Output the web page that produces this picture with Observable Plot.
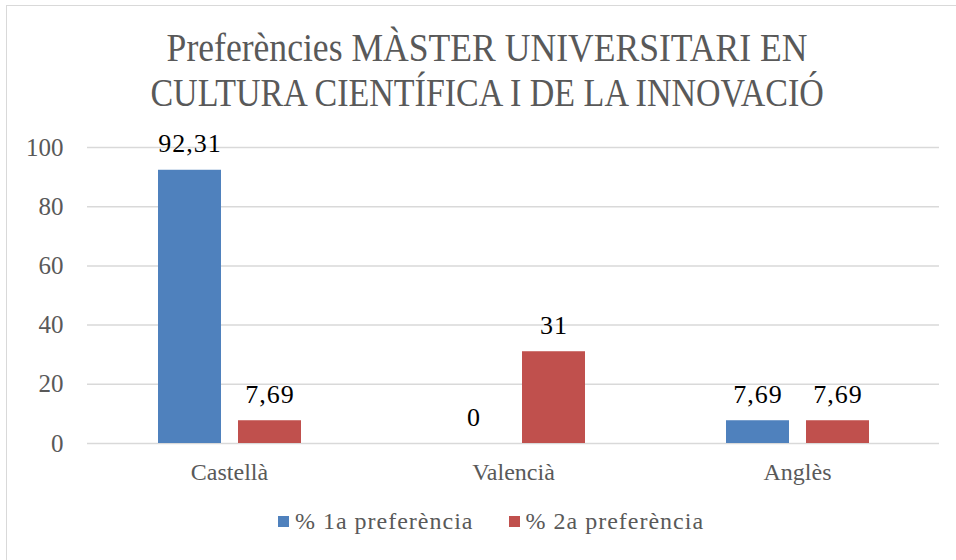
<!DOCTYPE html>
<html><head><meta charset="utf-8">
<script src="https://cdn.jsdelivr.net/npm/d3@7"></script>
<script src="https://cdn.jsdelivr.net/npm/@observablehq/plot@0.6"></script>
<style>
body{margin:0;background:#fff;}
#wrap{position:relative;width:956px;height:560px;overflow:hidden;font-family:'Liberation Serif','DejaVu Serif',serif;background:#fff;}
#frame{position:absolute;left:6px;top:5px;width:1000px;height:600px;border:1.5px solid #d9d9d9;box-sizing:border-box;}
#title{position:absolute;left:0;width:974px;top:25px;text-align:center;color:#595959;font-size:40px;line-height:45px;font-family:'Liberation Serif',serif;}
#title span{display:inline-block;white-space:nowrap;}
#title .l1{transform:scaleX(0.89);}
#title .l2{transform:scaleX(0.85);}
#chart{position:absolute;left:0;top:120px;}
#chart svg text{font-family:'Liberation Serif',serif;}
#chart svg g.labels text{letter-spacing:1px;}
#legend{position:absolute;left:0;width:982px;top:508px;display:flex;justify-content:center;gap:35px;color:#595959;font-size:24px;letter-spacing:1px;font-family:'Liberation Serif',serif;}
#legend .item{display:flex;align-items:center;gap:6px;}
#legend .sw{width:11px;height:11px;display:inline-block;}
</style></head>
<body>
<div id="wrap">
  <div id="frame"></div>
  <div id="title"><span class="l1">Preferències MÀSTER UNIVERSITARI EN</span><br><span class="l2">CULTURA CIENTÍFICA I DE LA INNOVACIÓ</span></div>
  <div id="chart"></div>
  <div id="legend"></div>
</div>
<script>
const categories = ["Castellà", "Valencià", "Anglès"];
const series = ["% 1a preferència", "% 2a preferència"];
const pref1 = [92.31, 0, 7.69];
const pref2 = [7.69, 31, 7.69];
const yTicks = [0, 20, 40, 60, 80, 100];
const colors = ["#4F81BD", "#C0504D"];

const data = categories.flatMap((c, i) => [
  {cat: c, ser: series[0], value: pref1[i]},
  {cat: c, ser: series[1], value: pref2[i]}
]);
const fmt = v => String(v).replace(".", ",");

const chart = Plot.plot({
  width: 956,
  height: 380,
  marginTop: 27,
  marginBottom: 57,
  marginLeft: 87,
  marginRight: 17,
  style: "font-family:'Liberation Serif',serif;background:transparent;overflow:visible;",
  fx: {domain: categories, padding: 0, label: null},
  x: {domain: series, axis: null, paddingInner: 0.2125, paddingOuter: 0.879},
  y: {domain: [0, 100], label: null, axis: null},
  color: {domain: series, range: colors},
  marks: [
    Plot.gridY(yTicks, {stroke: "#d9d9d9", strokeOpacity: 1, strokeWidth: 1.5}),
    Plot.axisY(yTicks, {tickSize: 0, tickPadding: 24, fontSize: 25, fill: "#595959", label: null}),
    Plot.axisFx({anchor: "bottom", tickSize: 0, tickPadding: 19, fontSize: 24, fill: "#595959", label: null}),
    Plot.barY(data, {fx: "cat", x: "ser", y: "value", fill: "ser"}),
    Plot.text(data, {fx: "cat", x: "ser", y: "value", text: d => fmt(d.value), lineAnchor: "bottom", dy: -18, fontSize: 26, fill: "#000", className: "labels"})
  ]
});
document.getElementById("chart").appendChild(chart);

const legend = document.getElementById("legend");
series.forEach((s, i) => {
  const item = document.createElement("div");
  item.className = "item";
  const sw = document.createElement("span");
  sw.className = "sw";
  sw.style.background = colors[i];
  const t = document.createElement("span");
  t.textContent = s;
  item.appendChild(sw);
  item.appendChild(t);
  legend.appendChild(item);
});
</script>
</body></html>
